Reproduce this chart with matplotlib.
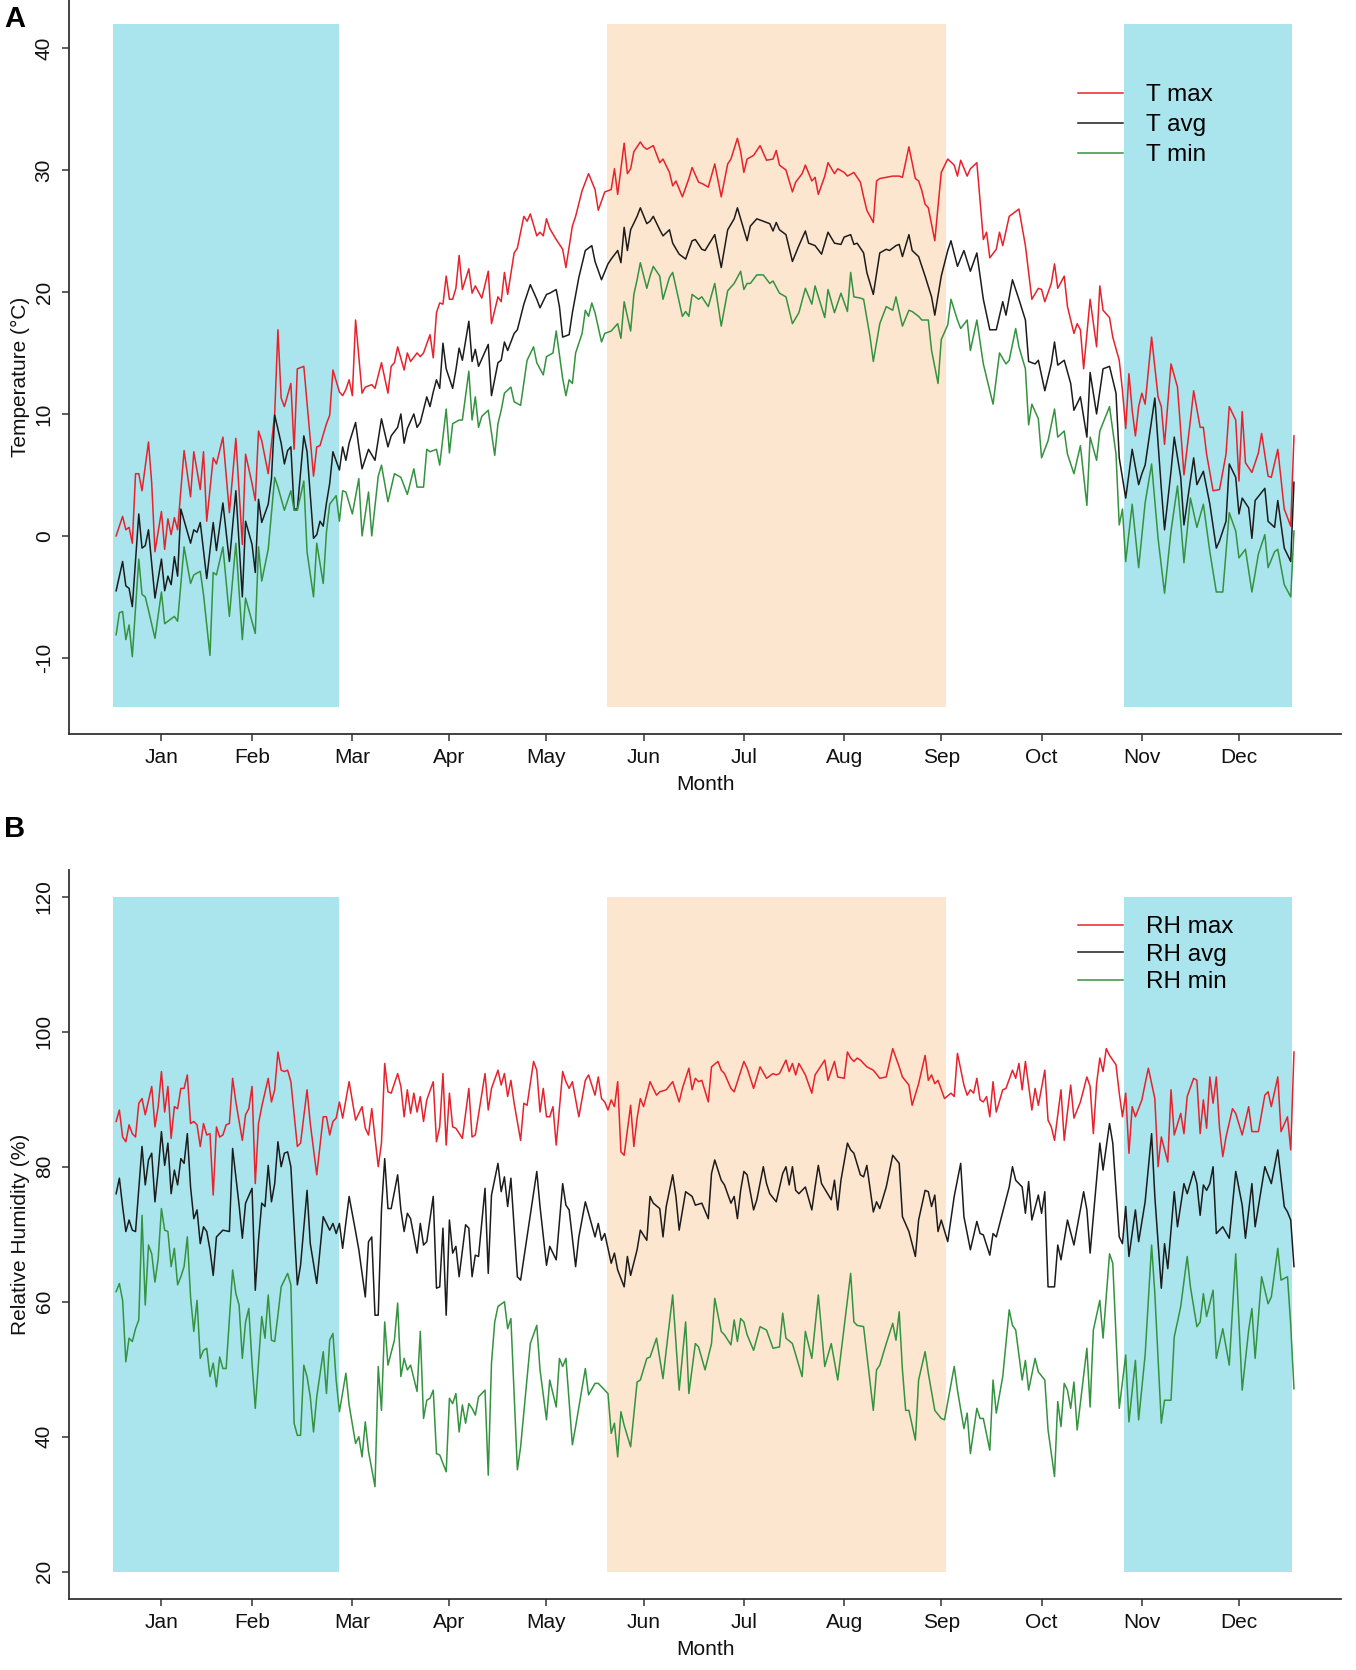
import matplotlib
matplotlib.use("Agg")
import matplotlib.pyplot as plt

# ---------------- data (day of year, value) ----------------
MONTHS = ['Jan', 'Feb', 'Mar', 'Apr', 'May', 'Jun', 'Jul', 'Aug', 'Sep', 'Oct', 'Nov', 'Dec']
MONTH_TICK_DAYS = [15, 43, 74, 104, 134, 164, 195, 226, 256, 287, 318, 348]

COLD_PERIODS = [(0, 70), (312.4, 364.3)]
WARM_PERIOD = (152.6, 257.4)
T_SHADE_RANGE = (-14, 42)
RH_SHADE_RANGE = (20, 120)

T_TICKS = [-10, 0, 10, 20, 30, 40]
RH_TICKS = [20, 40, 60, 80, 100, 120]

TMAX = [(1, 0.0), (3, 1.6), (4, 0.5), (5, 0.7), (6, -0.6), (7, 5.1), (8, 5.1), (9, 3.7), (11, 7.7), (12, 4.3),
        (13, -1.3), (15, 2.0), (16, -1.1), (17, 1.4), (18, 0.1), (19, 1.5), (20, 0.5), (22, 7.0), (24, 3.2),
        (25, 6.9), (27, 3.8), (28, 6.9), (29, 1.2), (31, 6.4), (32, 5.9), (34, 8.1), (36, 1.9), (38, 8.0),
        (40, -0.7), (41, 6.7), (43, 4.3), (44, 2.9), (45, 8.6), (46, 7.8), (48, 5.1), (50, 10.0), (51, 16.9),
        (52, 11.3), (53, 10.6), (55, 12.5), (56, 7.1), (57, 13.7), (59, 13.9), (62, 4.9), (63, 7.3), (64, 7.4),
        (66, 9.2), (67, 9.9), (68, 13.6), (70, 11.8), (71, 11.5), (72, 12.0), (73, 12.8), (74, 11.5), (75, 17.7),
        (77, 11.7), (78, 12.2), (80, 12.4), (81, 12.1), (83, 14.2), (85, 11.7), (86, 13.9), (87, 14.2), (88, 15.5),
        (90, 13.6), (91, 15.0), (92, 14.3), (94, 15.0), (95, 14.7), (96, 15.0), (98, 16.5), (99, 14.6), (100, 18.3),
        (101, 19.1), (102, 19.0), (103, 21.3), (104, 19.4), (105, 19.4), (106, 20.3), (107, 23.0), (108, 20.2),
        (110, 21.9), (111, 19.9), (112, 20.5), (114, 19.5), (116, 21.7), (117, 17.4), (119, 19.6), (120, 19.2),
        (121, 21.6), (122, 19.8), (124, 23.2), (125, 23.6), (127, 26.2), (128, 25.8), (129, 26.4), (131, 24.6),
        (132, 24.9), (133, 24.6), (134, 26.0), (135, 25.2), (137, 24.3), (139, 23.5), (140, 22.0), (142, 25.4),
        (143, 26.2), (145, 28.3), (147, 29.7), (149, 28.4), (150, 26.7), (152, 28.2), (154, 28.4), (155, 30.1),
        (156, 28.0), (158, 32.2), (159, 29.7), (160, 30.1), (161, 31.5), (163, 32.3), (164, 31.9), (165, 31.7),
        (167, 32.0), (169, 30.6), (170, 30.9), (172, 29.8), (173, 28.7), (174, 29.1), (176, 27.8), (178, 29.3),
        (179, 30.2), (181, 29.0), (182, 28.9), (184, 28.6), (186, 30.5), (188, 27.8), (190, 30.5), (191, 30.9),
        (193, 32.6), (194, 31.5), (195, 29.8), (196, 30.9), (198, 31.2), (199, 31.6), (200, 32.0), (202, 30.8),
        (204, 30.9), (205, 31.6), (206, 30.4), (208, 30.0), (210, 28.2), (211, 29.0), (213, 29.7), (214, 30.4),
        (216, 29.1), (217, 29.4), (218, 28.0), (220, 29.5), (221, 30.6), (223, 29.7), (224, 30.1), (226, 29.8),
        (227, 29.5), (229, 29.8), (231, 29.0), (232, 27.8), (233, 26.7), (235, 25.7), (236, 29.1), (237, 29.3),
        (239, 29.4), (241, 29.5), (243, 29.5), (244, 29.4), (246, 31.9), (248, 29.3), (249, 29.1), (250, 28.3),
        (251, 27.2), (252, 26.9), (254, 24.2), (256, 29.8), (258, 30.9), (260, 30.4), (261, 29.5), (262, 30.8),
        (264, 29.5), (265, 30.1), (267, 30.6), (269, 24.3), (270, 24.9), (271, 22.8), (273, 23.5), (274, 24.9),
        (275, 23.8), (277, 26.2), (280, 26.8), (282, 23.8), (284, 19.4), (286, 20.3), (287, 20.2), (288, 19.2),
        (290, 20.7), (291, 22.3), (292, 20.3), (294, 21.3), (295, 18.8), (297, 16.6), (298, 17.4), (299, 16.9),
        (300, 13.7), (302, 19.4), (304, 15.5), (305, 20.5), (306, 18.5), (308, 17.9), (309, 16.3), (311, 14.4),
        (312, 11.9), (313, 8.8), (314, 13.3), (315, 10.3), (316, 8.2), (317, 10.6), (318, 11.7), (319, 10.8),
        (321, 16.3), (323, 11.4), (324, 10.6), (325, 7.5), (327, 14.1), (329, 12.2), (331, 5.0), (333, 9.5),
        (334, 11.9), (336, 8.9), (337, 8.9), (338, 6.7), (340, 3.7), (342, 3.8), (344, 6.7), (345, 10.6),
        (347, 9.5), (348, 4.5), (349, 10.2), (350, 6.0), (352, 5.2), (354, 6.8), (355, 8.4), (357, 4.9),
        (358, 4.8), (360, 7.1), (362, 2.2), (364, 0.8), (365, 8.2)]

TAVG = [(1, -4.5), (3, -2.1), (4, -4.1), (5, -4.3), (6, -5.8), (8, 1.8), (9, -1.0), (10, -0.8), (11, 0.5),
        (13, -5.1), (15, -1.9), (16, -4.5), (17, -3.3), (18, -4.0), (19, -1.7), (20, -3.3), (21, 2.2), (24, -0.6),
        (25, 0.5), (26, 0.3), (27, 1.1), (29, -3.5), (31, 1.1), (32, -1.2), (34, 2.7), (36, -2.1), (38, 3.7),
        (40, -5.0), (41, 1.2), (43, -0.7), (44, -3.0), (45, 3.0), (46, 1.1), (48, 2.6), (49, 4.7), (50, 9.9),
        (52, 7.6), (53, 5.9), (54, 7.0), (55, 7.3), (56, 2.2), (57, 2.2), (59, 8.2), (60, 6.9), (62, -0.2),
        (63, 0.1), (64, 1.2), (65, 0.8), (66, 2.7), (67, 4.3), (68, 6.9), (70, 5.4), (71, 7.3), (72, 6.2),
        (73, 7.6), (75, 9.3), (76, 7.3), (77, 5.5), (79, 7.1), (81, 6.2), (83, 9.6), (85, 7.3), (86, 8.2),
        (88, 8.9), (89, 10.0), (90, 7.6), (91, 8.8), (93, 10.0), (94, 8.9), (95, 9.3), (97, 11.4), (98, 10.6),
        (99, 11.8), (100, 12.8), (101, 12.1), (102, 15.8), (103, 13.7), (105, 12.1), (106, 13.6), (107, 15.4),
        (108, 14.4), (110, 17.6), (111, 14.3), (112, 15.3), (113, 13.9), (116, 15.7), (117, 11.5), (119, 14.2),
        (120, 14.4), (121, 15.9), (122, 15.2), (124, 16.6), (125, 16.9), (127, 19.0), (129, 20.6), (131, 19.4),
        (132, 18.7), (134, 19.8), (135, 19.9), (137, 20.2), (138, 18.8), (139, 16.3), (141, 16.5), (142, 18.3),
        (144, 21.2), (146, 23.4), (148, 23.8), (149, 22.5), (151, 21.0), (153, 22.3), (154, 22.7), (156, 23.4),
        (157, 22.4), (158, 25.3), (159, 23.4), (160, 25.1), (162, 26.2), (163, 26.9), (165, 25.6), (166, 25.8),
        (167, 26.2), (169, 25.1), (170, 24.6), (172, 25.1), (173, 24.0), (175, 23.1), (177, 22.7), (179, 24.2),
        (180, 24.3), (182, 23.5), (183, 23.4), (186, 24.7), (188, 22.0), (190, 25.1), (192, 26.0), (193, 26.9),
        (194, 26.0), (196, 24.2), (197, 25.4), (199, 26.0), (201, 25.8), (203, 25.6), (204, 25.0), (205, 25.7),
        (206, 25.1), (208, 24.7), (210, 22.5), (212, 23.8), (214, 25.0), (215, 24.0), (217, 23.8), (219, 23.1),
        (221, 24.9), (223, 24.0), (225, 23.9), (226, 24.5), (228, 24.7), (229, 23.9), (230, 24.0), (232, 23.2),
        (233, 21.6), (235, 19.8), (237, 23.2), (239, 23.5), (240, 23.4), (242, 23.8), (243, 23.9), (244, 22.9),
        (246, 24.7), (247, 23.4), (249, 22.9), (251, 21.3), (253, 19.6), (254, 18.1), (256, 21.3), (258, 23.4),
        (259, 24.2), (261, 22.1), (263, 23.4), (265, 21.7), (267, 23.2), (269, 19.4), (271, 16.9), (273, 16.9),
        (275, 19.2), (276, 18.1), (278, 21.0), (280, 19.4), (282, 17.7), (283, 14.3), (285, 14.1), (286, 14.4),
        (288, 11.9), (290, 14.1), (291, 15.9), (292, 14.0), (294, 14.4), (296, 12.5), (297, 10.3), (299, 11.4),
        (301, 8.1), (302, 13.4), (304, 10.0), (306, 13.7), (308, 13.9), (310, 11.7), (311, 6.4), (313, 3.1),
        (315, 7.1), (317, 4.2), (318, 5.1), (319, 5.8), (322, 11.3), (324, 3.9), (325, 0.5), (327, 5.3),
        (328, 8.1), (330, 4.8), (331, 0.9), (334, 6.4), (335, 4.2), (337, 5.3), (339, 2.6), (341, -1.0),
        (342, -0.4), (344, 1.2), (345, 5.9), (347, 4.8), (348, 1.8), (349, 3.1), (351, 2.3), (352, -0.2),
        (353, 2.9), (356, 3.9), (357, 1.2), (359, 0.7), (360, 2.9), (362, -1.0), (364, -2.1), (365, 4.4)]

TMIN = [(1, -8.1), (2, -6.3), (3, -6.2), (4, -8.5), (5, -7.3), (6, -9.9), (8, -1.9), (9, -4.8), (10, -5.0),
        (11, -6.1), (13, -8.4), (15, -4.6), (16, -7.2), (17, -7.0), (19, -6.6), (20, -7.0), (22, -0.9), (24, -3.9),
        (25, -3.2), (27, -2.9), (28, -4.8), (30, -9.8), (31, -3.0), (32, -3.2), (34, -0.9), (36, -6.6), (38, -0.6),
        (40, -8.5), (41, -5.1), (44, -8.0), (45, -0.9), (46, -3.7), (48, -1.1), (50, 4.8), (51, 4.0), (53, 2.1),
        (55, 3.7), (56, 2.1), (57, 2.1), (59, 4.5), (60, -1.3), (62, -5.0), (63, -0.6), (65, -3.9), (66, 0.3),
        (67, 2.6), (69, 3.3), (70, 1.2), (71, 3.7), (72, 3.6), (74, 1.8), (76, 4.7), (77, 0.0), (79, 3.6),
        (80, 0.0), (82, 4.9), (83, 5.8), (85, 2.8), (87, 5.1), (89, 4.8), (91, 3.4), (93, 5.5), (94, 4.0),
        (96, 4.0), (97, 7.1), (98, 6.9), (100, 7.1), (101, 5.8), (103, 10.4), (104, 6.8), (105, 9.2), (107, 9.5),
        (108, 9.5), (110, 13.5), (111, 9.5), (112, 11.4), (113, 8.9), (114, 9.8), (116, 10.3), (118, 6.6),
        (119, 9.2), (120, 10.3), (121, 11.7), (123, 12.2), (124, 11.0), (126, 10.7), (128, 14.4), (130, 15.5),
        (131, 14.2), (133, 13.2), (134, 14.7), (136, 15.0), (137, 16.8), (139, 12.9), (140, 11.5), (141, 12.8),
        (142, 12.5), (143, 15.0), (145, 16.6), (146, 18.5), (147, 18.0), (148, 19.1), (149, 18.3), (151, 15.9),
        (152, 16.6), (154, 16.8), (156, 17.4), (157, 16.2), (158, 19.2), (159, 18.0), (160, 16.8), (161, 19.8),
        (162, 21.0), (163, 22.4), (165, 20.3), (166, 21.3), (167, 22.1), (169, 21.3), (170, 19.4), (172, 21.2),
        (173, 21.6), (175, 19.2), (176, 18.0), (177, 18.4), (178, 18.0), (179, 19.8), (181, 19.4), (182, 19.6),
        (184, 18.8), (186, 20.7), (188, 17.2), (190, 20.1), (192, 20.7), (194, 21.7), (195, 20.2), (196, 20.7),
        (197, 20.7), (199, 21.4), (201, 21.4), (203, 20.7), (204, 20.9), (206, 19.9), (208, 19.6), (210, 17.4),
        (212, 18.3), (214, 20.3), (216, 19.0), (217, 20.5), (220, 17.9), (221, 20.2), (223, 18.3), (225, 19.9),
        (227, 18.4), (228, 21.6), (229, 19.6), (231, 19.5), (232, 19.4), (234, 16.3), (235, 14.3), (237, 17.4),
        (239, 18.8), (241, 18.5), (242, 19.6), (244, 17.2), (246, 18.5), (247, 18.4), (249, 18.0), (250, 17.7),
        (252, 17.7), (253, 15.2), (255, 12.5), (256, 16.1), (258, 17.3), (259, 19.4), (261, 17.7), (262, 17.0),
        (264, 17.7), (265, 15.2), (267, 17.7), (269, 14.1), (271, 11.9), (272, 10.8), (274, 15.0), (276, 14.1),
        (277, 14.4), (279, 17.0), (280, 15.5), (282, 13.7), (283, 9.1), (284, 10.8), (286, 9.6), (287, 6.4),
        (289, 7.8), (291, 10.4), (292, 8.1), (294, 8.6), (295, 6.7), (297, 5.1), (299, 7.4), (301, 2.5),
        (302, 8.1), (304, 6.2), (305, 8.6), (308, 10.6), (310, 6.7), (311, 0.9), (312, 2.2), (313, -2.1),
        (315, 2.6), (317, -2.6), (319, 2.7), (321, 5.9), (323, -0.2), (325, -4.7), (327, 0.4), (329, 4.1),
        (330, 1.2), (331, -2.2), (333, 3.1), (335, 0.7), (337, 2.6), (339, -1.3), (341, -4.6), (343, -4.6),
        (345, 1.9), (347, 0.4), (348, -1.8), (350, -1.1), (352, -4.6), (354, -1.5), (356, 0.1), (357, -2.6),
        (359, -1.3), (360, -1.1), (362, -4.0), (364, -5.0), (365, 0.4)]

RHMAX = [(1, 86.7), (2, 88.4), (3, 84.4), (4, 83.7), (5, 86.2), (6, 84.9), (7, 84.4), (8, 89.4), (9, 90.1),
         (10, 87.7), (12, 91.9), (13, 85.9), (14, 88.9), (15, 94.1), (16, 88.1), (17, 91.9), (18, 84.2), (19, 88.9),
         (20, 88.6), (21, 91.6), (22, 91.6), (23, 93.6), (24, 86.4), (25, 86.7), (26, 86.2), (27, 83.0), (28, 86.4),
         (29, 84.7), (30, 84.9), (31, 75.8), (32, 85.9), (33, 84.4), (34, 84.7), (35, 86.2), (36, 86.4), (37, 93.1),
         (38, 89.6), (40, 83.9), (41, 87.7), (42, 88.6), (43, 91.9), (44, 77.5), (45, 86.4), (46, 88.9), (48, 93.1),
         (49, 89.6), (50, 91.4), (51, 97.0), (52, 94.3), (53, 94.1), (54, 94.3), (55, 92.6), (57, 83.0), (58, 83.5),
         (60, 91.4), (61, 86.4), (63, 78.8), (65, 87.4), (66, 87.4), (67, 84.7), (68, 86.7), (69, 87.2), (70, 89.6),
         (71, 87.2), (73, 92.6), (75, 86.9), (77, 88.9), (78, 85.7), (79, 84.7), (80, 88.6), (82, 80.0), (83, 83.5),
         (84, 95.3), (85, 91.1), (86, 90.9), (88, 93.8), (89, 91.9), (90, 87.4), (91, 91.4), (92, 87.9), (93, 90.9),
         (94, 88.1), (95, 90.4), (96, 86.7), (97, 89.9), (99, 92.6), (100, 83.7), (101, 85.9), (102, 93.8),
         (103, 83.2), (104, 90.9), (105, 85.9), (106, 85.7), (108, 84.2), (110, 91.6), (111, 84.4), (112, 84.7),
         (115, 93.8), (116, 88.4), (117, 91.6), (119, 94.3), (120, 92.1), (121, 93.8), (122, 90.4), (123, 92.8),
         (124, 89.4), (126, 83.9), (127, 89.4), (128, 89.1), (130, 95.6), (131, 94.3), (132, 88.1), (133, 91.6),
         (134, 87.4), (135, 87.4), (136, 88.9), (137, 83.2), (139, 94.1), (140, 92.6), (141, 91.6), (142, 92.6),
         (144, 87.4), (146, 92.8), (147, 93.6), (149, 90.6), (150, 93.3), (151, 90.1), (152, 89.6), (153, 88.4),
         (154, 89.9), (155, 88.9), (156, 92.6), (157, 82.2), (158, 81.7), (160, 89.1), (161, 83.0), (162, 87.2),
         (163, 90.1), (164, 88.9), (166, 92.6), (168, 90.6), (169, 91.1), (171, 91.4), (173, 92.6), (175, 89.6),
         (176, 91.6), (178, 94.6), (179, 91.4), (180, 93.1), (181, 92.6), (182, 92.8), (184, 89.6), (185, 94.8),
         (187, 95.6), (188, 94.3), (189, 93.8), (191, 91.6), (192, 91.1), (195, 95.6), (196, 94.6), (198, 91.6),
         (200, 94.8), (202, 93.1), (204, 93.8), (205, 93.6), (206, 93.8), (208, 95.8), (209, 94.1), (210, 95.3),
         (211, 93.6), (212, 95.3), (214, 93.6), (216, 90.9), (217, 93.6), (220, 95.8), (221, 92.8), (223, 95.6),
         (224, 93.3), (226, 93.1), (227, 97.0), (228, 96.1), (229, 95.6), (230, 96.1), (231, 95.8), (233, 94.8),
         (235, 94.3), (237, 93.1), (239, 93.3), (241, 97.5), (243, 94.8), (244, 93.3), (246, 92.1), (247, 89.1),
         (249, 92.3), (251, 96.5), (252, 92.8), (253, 93.6), (254, 92.3), (255, 92.8), (257, 90.1), (259, 90.9),
         (260, 90.4), (261, 96.8), (263, 92.1), (264, 90.6), (265, 91.4), (266, 90.9), (267, 93.1), (268, 89.9),
         (269, 89.6), (270, 90.4), (271, 87.4), (272, 92.6), (273, 88.1), (275, 91.4), (276, 91.6), (278, 94.3),
         (279, 93.1), (280, 95.3), (281, 91.4), (282, 95.6), (284, 88.4), (285, 91.6), (286, 89.1), (288, 94.3),
         (289, 86.9), (290, 85.9), (291, 83.9), (293, 91.4), (294, 83.9), (295, 88.1), (296, 92.1), (297, 87.2),
         (299, 89.6), (301, 93.3), (302, 91.9), (303, 84.9), (304, 92.3), (305, 96.1), (306, 94.1), (307, 97.5),
         (308, 96.5), (310, 95.1), (311, 90.9), (312, 87.4), (313, 90.9), (314, 82.0), (315, 88.9), (316, 87.4),
         (318, 89.9), (319, 92.3), (320, 94.6), (322, 90.1), (323, 80.0), (324, 84.4), (326, 80.7), (327, 91.4),
         (328, 84.7), (330, 87.9), (331, 84.9), (332, 90.4), (334, 93.1), (335, 92.8), (336, 84.9), (337, 89.9),
         (338, 85.7), (339, 93.3), (340, 89.4), (341, 93.3), (342, 85.7), (343, 81.5), (344, 84.4), (346, 88.6),
         (347, 87.9), (349, 84.7), (351, 88.9), (352, 85.2), (354, 85.2), (356, 90.6), (357, 91.1), (358, 88.9),
         (360, 93.3), (361, 85.2), (363, 87.4), (364, 82.5), (365, 97.0)]

RHAVG = [(1, 76.0), (2, 78.3), (3, 74.1), (4, 70.4), (5, 72.1), (6, 70.6), (7, 70.4), (9, 83.0), (10, 77.3),
         (11, 81.0), (12, 82.0), (13, 74.8), (14, 79.5), (15, 85.2), (16, 80.2), (17, 83.5), (18, 76.0), (19, 79.5),
         (20, 77.3), (21, 81.2), (22, 80.5), (23, 84.9), (24, 77.0), (25, 72.3), (26, 73.6), (27, 68.6), (28, 71.1),
         (29, 70.4), (30, 67.7), (31, 63.9), (32, 69.6), (33, 70.1), (34, 70.6), (36, 70.4), (37, 82.7), (38, 78.5),
         (39, 74.3), (40, 69.4), (41, 74.6), (43, 76.8), (44, 61.7), (45, 69.1), (46, 74.6), (47, 74.1), (48, 80.2),
         (49, 74.8), (50, 77.5), (51, 83.7), (52, 80.0), (53, 82.0), (54, 82.2), (55, 80.0), (57, 62.5), (58, 65.4),
         (60, 76.5), (61, 68.6), (63, 62.7), (65, 72.6), (66, 71.6), (67, 70.6), (68, 71.6), (69, 70.1), (70, 71.6),
         (71, 67.9), (73, 75.6), (75, 70.4), (76, 67.7), (78, 60.7), (79, 68.9), (80, 69.6), (81, 58.0), (82, 58.0),
         (83, 73.6), (84, 81.2), (85, 73.8), (86, 73.8), (88, 78.8), (89, 73.6), (90, 70.4), (91, 73.1), (92, 72.3),
         (94, 67.2), (95, 71.6), (96, 68.4), (97, 68.9), (99, 75.6), (100, 62.0), (101, 62.2), (102, 70.9),
         (103, 58.0), (104, 72.1), (105, 67.2), (106, 68.2), (107, 63.7), (109, 71.4), (110, 70.9), (111, 63.7),
         (112, 66.9), (113, 66.7), (115, 76.8), (116, 64.2), (117, 75.8), (119, 80.5), (120, 76.3), (121, 78.5),
         (122, 74.1), (123, 78.3), (125, 63.7), (126, 63.2), (128, 69.6), (131, 79.3), (132, 74.1), (134, 65.4),
         (135, 68.2), (137, 66.2), (139, 77.5), (140, 74.3), (141, 73.6), (143, 65.2), (144, 69.6), (146, 74.8),
         (147, 73.1), (149, 69.6), (150, 71.6), (151, 69.1), (152, 70.1), (154, 65.7), (155, 67.2), (156, 64.7),
         (158, 62.2), (159, 66.7), (160, 63.9), (162, 67.7), (163, 70.6), (165, 69.1), (166, 75.6), (167, 74.6),
         (169, 73.8), (170, 69.6), (171, 74.1), (173, 78.8), (174, 75.6), (175, 70.6), (177, 76.3), (179, 75.6),
         (180, 74.3), (182, 74.6), (184, 72.3), (185, 79.0), (186, 81.0), (188, 78.0), (189, 77.3), (191, 74.6),
         (192, 75.6), (193, 72.3), (194, 76.5), (195, 79.3), (196, 78.8), (198, 73.6), (199, 75.1), (201, 80.0),
         (202, 77.5), (203, 76.0), (205, 74.8), (207, 79.0), (208, 80.0), (209, 77.3), (210, 80.0), (211, 76.5),
         (212, 76.0), (214, 77.0), (216, 73.6), (217, 77.0), (218, 80.2), (219, 77.5), (222, 75.1), (223, 78.0),
         (224, 73.6), (225, 78.0), (227, 83.5), (228, 82.5), (229, 82.0), (231, 78.8), (232, 78.5), (233, 80.2),
         (235, 73.3), (236, 74.8), (237, 73.8), (239, 77.0), (241, 81.7), (243, 80.5), (244, 72.6), (246, 70.4),
         (248, 66.7), (249, 72.1), (251, 76.5), (252, 76.3), (253, 74.1), (254, 75.8), (255, 70.4), (256, 72.1),
         (258, 68.9), (260, 75.6), (262, 80.5), (263, 72.6), (265, 67.7), (267, 71.9), (268, 70.1), (269, 69.9),
         (271, 66.9), (272, 70.1), (273, 69.6), (275, 73.3), (277, 77.0), (278, 80.0), (279, 78.0), (281, 77.0),
         (282, 73.1), (283, 77.8), (284, 72.1), (286, 75.8), (287, 73.1), (288, 76.3), (289, 62.2), (291, 62.2),
         (292, 68.4), (293, 66.2), (295, 72.1), (297, 68.4), (300, 76.3), (301, 73.6), (302, 67.2), (305, 83.5),
         (306, 79.5), (308, 86.4), (309, 83.5), (311, 69.6), (312, 68.6), (313, 74.1), (314, 66.7), (316, 73.6),
         (317, 68.9), (319, 74.8), (321, 84.9), (322, 75.6), (324, 62.0), (325, 68.6), (326, 64.9), (328, 76.3),
         (329, 71.1), (330, 74.3), (331, 77.5), (332, 76.0), (334, 79.3), (335, 77.5), (336, 72.8), (337, 77.3),
         (338, 76.5), (339, 77.5), (340, 80.0), (341, 70.1), (343, 71.1), (345, 69.4), (347, 79.3), (349, 74.3),
         (350, 69.4), (352, 77.5), (353, 71.1), (356, 80.0), (358, 77.5), (360, 82.5), (362, 74.1), (363, 73.3),
         (364, 72.1), (365, 65.2)]

RHMIN = [(1, 61.5), (2, 62.7), (3, 60.2), (4, 51.1), (5, 54.6), (6, 54.1), (7, 56.0), (8, 57.3), (9, 72.8),
         (10, 59.5), (11, 68.4), (12, 67.1), (13, 62.9), (14, 66.4), (15, 73.8), (16, 70.6), (17, 70.4), (18, 65.2),
         (19, 67.9), (20, 62.5), (21, 63.7), (22, 65.2), (23, 69.6), (24, 60.7), (25, 55.6), (26, 60.2), (27, 51.6),
         (28, 52.8), (29, 53.1), (30, 48.9), (31, 50.9), (32, 47.4), (33, 51.8), (34, 50.1), (35, 50.1), (37, 64.7),
         (38, 61.2), (39, 59.5), (40, 51.6), (41, 57.0), (42, 59.0), (43, 50.9), (44, 44.2), (45, 51.1), (46, 57.8),
         (47, 54.6), (48, 61.0), (49, 54.3), (50, 54.1), (51, 58.0), (52, 62.2), (54, 64.2), (55, 62.5), (56, 42.0),
         (57, 40.2), (58, 40.2), (59, 50.6), (60, 48.9), (61, 45.9), (62, 40.7), (63, 45.9), (65, 52.6), (66, 46.4),
         (67, 54.3), (68, 55.3), (69, 48.4), (70, 43.7), (72, 49.4), (73, 44.7), (75, 39.0), (76, 40.0), (77, 37.0),
         (78, 42.2), (79, 37.8), (81, 32.6), (82, 50.4), (83, 43.9), (84, 57.0), (85, 50.6), (87, 54.3), (88, 59.8),
         (89, 48.9), (90, 51.6), (91, 49.9), (92, 50.6), (94, 46.7), (95, 55.6), (96, 42.7), (97, 45.4), (98, 45.7),
         (99, 46.9), (100, 37.5), (101, 37.3), (103, 34.8), (104, 45.7), (105, 44.9), (106, 46.4), (107, 40.7),
         (108, 44.7), (109, 42.0), (110, 44.9), (111, 44.2), (112, 43.2), (113, 45.9), (115, 46.9), (116, 34.3),
         (117, 50.9), (118, 57.0), (119, 59.3), (121, 60.0), (122, 56.0), (123, 57.5), (125, 35.1), (126, 38.5),
         (129, 53.8), (131, 56.5), (132, 49.9), (134, 42.5), (135, 48.4), (137, 44.4), (138, 51.6), (139, 50.4),
         (140, 51.6), (142, 38.8), (143, 41.5), (146, 50.1), (147, 46.2), (149, 47.9), (150, 47.9), (153, 46.4),
         (154, 40.5), (155, 42.0), (156, 37.0), (157, 43.7), (158, 41.7), (160, 38.5), (162, 48.1), (163, 48.4),
         (165, 51.6), (166, 51.8), (168, 54.6), (170, 48.6), (171, 52.8), (173, 61.0), (175, 46.9), (177, 57.0),
         (178, 46.4), (180, 53.8), (181, 53.3), (183, 49.9), (185, 53.8), (186, 60.5), (188, 55.6), (189, 55.1),
         (191, 53.6), (192, 57.3), (193, 54.1), (194, 57.5), (195, 57.0), (196, 55.1), (198, 52.8), (200, 56.3),
         (202, 55.8), (204, 53.1), (206, 53.3), (207, 58.3), (208, 54.6), (210, 53.8), (213, 48.9), (214, 55.6),
         (216, 51.6), (218, 61.0), (220, 50.4), (222, 53.8), (224, 48.4), (226, 56.3), (228, 64.2), (229, 57.0),
         (230, 56.5), (232, 56.3), (235, 43.9), (236, 49.9), (237, 50.6), (239, 53.8), (241, 56.8), (242, 54.3),
         (243, 58.5), (244, 49.9), (245, 43.9), (246, 43.9), (248, 39.5), (249, 48.4), (251, 52.6), (252, 49.4),
         (254, 43.9), (256, 42.7), (257, 42.5), (260, 50.4), (261, 46.9), (263, 41.2), (264, 43.5), (265, 37.5),
         (267, 44.2), (268, 42.7), (269, 42.7), (271, 38.0), (272, 48.4), (273, 43.5), (275, 48.9), (277, 58.8),
         (278, 56.5), (279, 55.8), (281, 48.4), (282, 51.3), (283, 46.9), (285, 51.6), (286, 49.6), (288, 48.4),
         (289, 41.0), (291, 34.1), (292, 45.2), (293, 41.5), (294, 47.9), (295, 46.9), (296, 44.2), (297, 48.1),
         (298, 41.0), (301, 53.1), (302, 44.4), (303, 55.8), (305, 60.2), (306, 54.6), (308, 67.1), (309, 65.7),
         (311, 44.2), (313, 52.1), (314, 42.2), (316, 51.3), (317, 42.5), (319, 52.1), (321, 68.4), (322, 61.2),
         (324, 42.0), (325, 45.4), (327, 45.4), (328, 54.8), (329, 57.0), (330, 59.3), (332, 66.7), (333, 62.2),
         (335, 56.3), (336, 57.0), (337, 61.2), (338, 57.8), (340, 61.7), (341, 51.6), (343, 56.0), (345, 50.6),
         (347, 67.1), (349, 46.9), (351, 55.8), (352, 59.0), (353, 51.6), (355, 63.7), (357, 59.7), (358, 60.7),
         (360, 67.9), (361, 63.2), (363, 63.7), (364, 56.5), (365, 47.1)]

# ---------------- style ----------------
plt.rcParams['font.family'] = ['Liberation Sans', 'DejaVu Sans']
C_MAX, C_AVG, C_MIN = '#e8222c', '#1c1c1c', '#34933f'
C_COLD, C_WARM = '#aae5ee', '#fde6cf'
SPINE = '#333333'

fig = plt.figure(figsize=(13.56, 16.70), dpi=100)
axA = fig.add_axes([0.0509, 0.5605, 0.9381, 0.4417])
axB = fig.add_axes([0.0509, 0.0427, 0.9381, 0.4365])


def unzip(series):
    return [d for d, _ in series], [v for _, v in series]


def panel(ax, shade, series, labels, ylim, yticks, ylabel, ylab_y, leg_y, leg_space):
    for x0, x1 in COLD_PERIODS:
        ax.fill_between([x0, x1], shade[0], shade[1], color=C_COLD, lw=0, zorder=0)
    ax.fill_between(list(WARM_PERIOD), shade[0], shade[1], color=C_WARM, lw=0, zorder=0)
    for s, c, lab in zip(series, [C_MAX, C_AVG, C_MIN], labels):
        d, v = unzip(s)
        ax.plot(d, v, color=c, lw=1.1, label=lab, zorder=3)
    ax.set_xlim(-13.56, 379.56)
    ax.set_ylim(*ylim)
    ax.set_xticks(MONTH_TICK_DAYS)
    ax.set_xticklabels(MONTHS)
    ax.set_yticks(yticks)
    ax.set_yticklabels([str(t) for t in yticks])
    for side in ('top', 'right'):
        ax.spines[side].set_visible(False)
    for side in ('left', 'bottom'):
        ax.spines[side].set_color(SPINE)
        ax.spines[side].set_linewidth(1.3)
    ax.tick_params(axis='both', length=5, width=1.1, color=SPINE, labelsize=15, labelcolor='#111111')
    ax.tick_params(axis='x', pad=5)
    ax.tick_params(axis='y', pad=6, labelrotation=90)
    for t in ax.get_yticklabels():
        t.set_verticalalignment('center')
    ax.set_xlabel('Month', fontsize=15, color='#111111')
    ax.xaxis.set_label_coords(0.5, -0.056)
    ax.set_ylabel(ylabel, fontsize=15, color='#111111')
    ax.yaxis.set_label_coords(-0.031, ylab_y)
    ax.legend(loc='upper left', bbox_to_anchor=(0.793, leg_y), frameon=False, fontsize=17.5,
              handlelength=1.85, handletextpad=0.95, labelspacing=leg_space, borderpad=0, borderaxespad=0)


panel(axA, T_SHADE_RANGE, [TMAX, TAVG, TMIN], ['T max', 'T avg', 'T min'],
      (-16.24, 44.24), T_TICKS, 'Temperature (\u00b0C)', 0.484, 0.881, 0.33)
panel(axB, RH_SHADE_RANGE, [RHMAX, RHAVG, RHMIN], ['RH max', 'RH avg', 'RH min'],
      (16, 124), RH_TICKS, 'Relative Humidity (%)', 0.5, 0.936, 0.22)

fig.text(0.003, 0.997, 'A', fontsize=21, fontweight='bold', va='top', ha='left')
fig.text(0.003, 0.512, 'B', fontsize=21, fontweight='bold', va='top', ha='left')

fig.savefig('out.png', dpi=100)
